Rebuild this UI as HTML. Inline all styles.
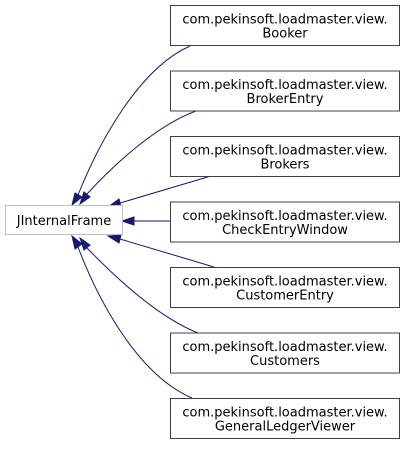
<!DOCTYPE html>
<html><head><style>
body{margin:0;background:#fff;}
svg text{font-family:"DejaVu Sans","Liberation Sans",sans-serif;font-size:13px;fill:#000;}
</style></head><body>
<svg width="405" height="444" viewBox="0 0 405 444" xmlns="http://www.w3.org/2000/svg">
<g fill="none" stroke="#191970" stroke-width="1">
<path d="M190,46 C140,68 100,140 78,195"/>
<path d="M196,111 C160,124 118,160 87,194"/>
<path d="M211,176 L120,203"/>
<path d="M170,221 L134,221"/>
<path d="M214,267 L120,239"/>
<path d="M198,333 C160,318 118,280 87,248"/>
<path d="M192,398 C140,376 100,305 78,247"/>
</g>
<g fill="#191970" stroke="#191970">
<polygon points="72,205 75,193 82,197"/>
<polygon points="80,204 84,192 90,197"/>
<polygon points="108,207 119,199 121,207"/>
<polygon points="122,221 134,217 134,225"/>
<polygon points="108,236 121,235 119,243"/>
<polygon points="80,238 90,245 84,250"/>
<polygon points="72,236 82,244 75,249"/>
</g>
<rect x="5.5" y="205.5" width="117" height="29" fill="#fff" stroke="#bfbfbf"/>
<text x="64" y="225" text-anchor="middle">JInternalFrame</text>
<g fill="#fff" stroke="#404040" stroke-width="1">
<rect x="170.5" y="5.5" width="229" height="40"/>
<rect x="170.5" y="71" width="229" height="40"/>
<rect x="170.5" y="136.5" width="229" height="40"/>
<rect x="170.5" y="202" width="229" height="40"/>
<rect x="170.5" y="267.5" width="229" height="40"/>
<rect x="170.5" y="333" width="229" height="40"/>
<rect x="170.5" y="398.5" width="229" height="40"/>
</g>
<g text-anchor="middle">
<text x="285" y="23.5">com.pekinsoft.loadmaster.view.</text><text x="285" y="37.5">Booker</text>
<text x="285" y="89">com.pekinsoft.loadmaster.view.</text><text x="285" y="103">BrokerEntry</text>
<text x="285" y="154.5">com.pekinsoft.loadmaster.view.</text><text x="285" y="168.5">Brokers</text>
<text x="285" y="220">com.pekinsoft.loadmaster.view.</text><text x="285" y="234">CheckEntryWindow</text>
<text x="285" y="285.5">com.pekinsoft.loadmaster.view.</text><text x="285" y="299.5">CustomerEntry</text>
<text x="285" y="351">com.pekinsoft.loadmaster.view.</text><text x="285" y="365">Customers</text>
<text x="285" y="416.5">com.pekinsoft.loadmaster.view.</text><text x="285" y="430.5">GeneralLedgerViewer</text>
</g>
</svg>
</body></html>
